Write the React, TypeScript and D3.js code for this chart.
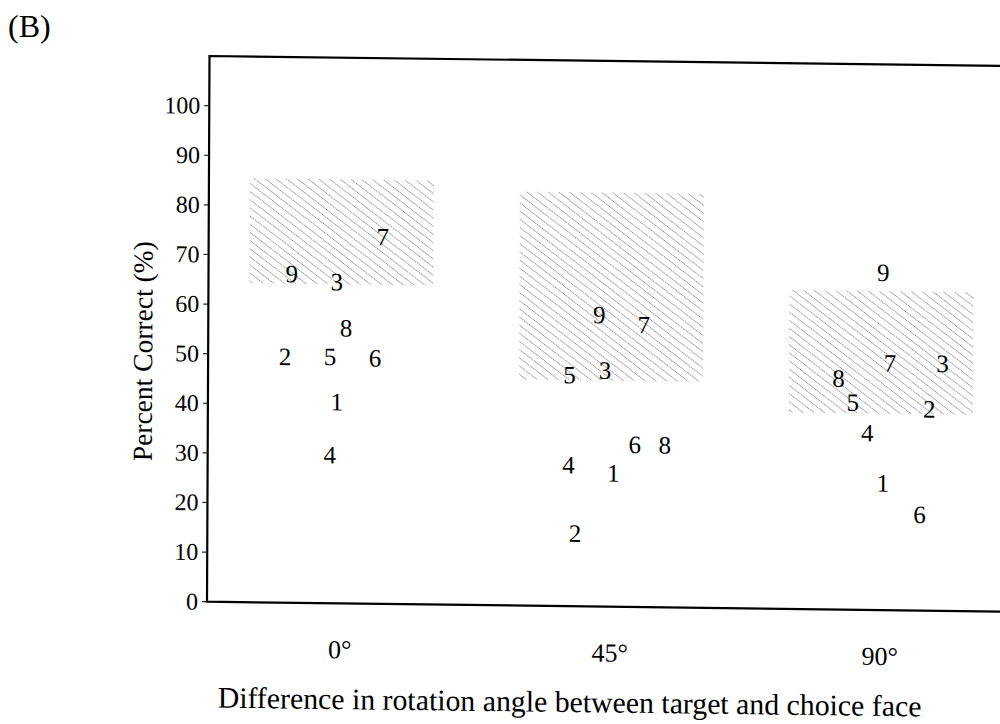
import React from "react";
import * as d3 from "d3";

// ---- data ----
const angles = [0, 45, 90];
const angleLabels = ["0°", "45°", "90°"];
const subjects = ["1", "2", "3", "4", "5", "6", "7", "8", "9"];
// percent correct per subject at each rotation difference
const score0 = [40.6, 49.6, 64.8, 29.9, 49.7, 49.5, 74.0, 55.5, 66.3];
const score45 = [26.9, 14.7, 47.6, 28.5, 46.6, 32.7, 56.9, 32.7, 58.8];
const score90 = [25.6, 40.6, 49.8, 35.7, 41.8, 19.3, 49.8, 46.6, 68.0];
// horizontal jitter of each subject label (in degrees of the x scale)
const jitter0 = [-0.7, -9.35, -0.8, -1.8, -1.85, 5.65, 6.85, 0.8, -8.3];
const jitter45 = [0.45, -5.9, -1.0, -7.0, -6.9, 4.0, 5.4, 9.0, -2.0];
const jitter90 = [0.35, 8.05, 10.25, -2.25, -4.7, 6.5, 1.5, -7.1, 0.3];
// shaded ranges per angle
const rangeHigh = [85.5, 83.5, 64.3];
const rangeLow = [64.3, 45.6, 39.6];
const yTicks = [0, 10, 20, 30, 40, 50, 60, 70, 80, 90, 100];

const scores = [score0, score45, score90];
const jitters = [jitter0, jitter45, jitter90];

const W = 1000;
const H = 724;
const left = 207;
const bottom = 601.7;
const top = 56;
const FONT = "'Liberation Serif', 'Times New Roman', serif";

export default function App() {
  const x = d3.scaleLinear().domain([0, 90]).range([340, 880]);
  const y = d3.scaleLinear().domain([0, 100]).range([bottom, 105.7]);
  const half = 92;
  // slight skew of the scanned page
  const A = -0.0046;
  const B = 0.0124;
  const skew = `matrix(1, ${B}, ${A}, 1, ${-A * bottom}, ${-B * left})`;

  return (
    <svg
      width={W}
      height={H}
      style={{ position: "absolute", left: 0, top: 0, background: "#fff" }}
      fontFamily={FONT}
    >
      <defs>
        <pattern
          id="hatch"
          patternUnits="userSpaceOnUse"
          width={8}
          height={6.5}
          patternTransform="rotate(37)"
        >
          <line
            x1={0}
            y1={3.25}
            x2={8}
            y2={3.25}
            stroke="#7d7d7d"
            strokeWidth={1.1}
            strokeDasharray="1.2 0.8"
          />
        </pattern>
      </defs>
      <rect width={W} height={H} fill="#fff" />
      <text x={8} y={37} fontSize={32} fill="#000">
        (B)
      </text>
      <g transform={skew}>
        {angles.map((a, i) => (
          <rect
            key={"r" + a}
            x={x(a) - half}
            y={y(rangeHigh[i])}
            width={half * 2}
            height={y(rangeLow[i]) - y(rangeHigh[i])}
            fill="url(#hatch)"
          />
        ))}
        {/* frame */}
        <path
          d={`M${W + 20},${top} H${left} V${bottom} H${W + 20}`}
          fill="none"
          stroke="#000"
          strokeWidth={2.2}
        />
        {/* y ticks */}
        {yTicks.map((t) => (
          <g key={"t" + t}>
            <line x1={left - 5} x2={left} y1={y(t)} y2={y(t)} stroke="#222" strokeWidth={1.2} />
            <text
              x={left - 9}
              y={y(t) + 8}
              textAnchor="end"
              fontSize={24}
              fill="#000"
            >
              {t}
            </text>
          </g>
        ))}
        <text
          transform={`translate(151,352) rotate(-90)`}
          textAnchor="middle"
          fontSize={27.5}
          fill="#000"
        >
          Percent Correct (%)
        </text>
        {/* subject labels */}
        {angles.map((a, i) =>
          subjects.map((s, j) => (
            <text
              key={a + "-" + s}
              x={x(a + jitters[i][j])}
              y={y(scores[i][j]) + 8.4}
              textAnchor="middle"
              fontSize={25}
              fill="#000"
            >
              {s}
            </text>
          ))
        )}
        {/* category labels */}
        {angles.map((a, i) => (
          <text
            key={"c" + a}
            x={x(a)}
            y={bottom + 55}
            textAnchor="middle"
            fontSize={26}
            fill="#000"
          >
            {angleLabels[i]}
          </text>
        ))}
        <text x={570} y={707.5} textAnchor="middle" fontSize={29.8} fill="#000">
          Difference in rotation angle between target and choice face
        </text>
      </g>
    </svg>
  );
}
